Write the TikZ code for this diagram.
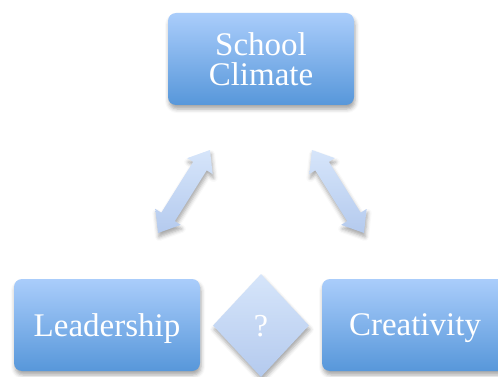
\documentclass[tikz,border=0pt]{standalone}
\usepackage{fontspec}
\setmainfont{Liberation Serif}
\usetikzlibrary{calc,shapes.geometric,shadows.blur}

\definecolor{boxtop}{HTML}{AACDFB}
\definecolor{boxbot}{HTML}{5797DA}
\definecolor{softtop}{HTML}{D6E5FA}
\definecolor{softbot}{HTML}{B4CAEE}

\tikzset{
  softshadow/.style={blur shadow={shadow xshift=1pt, shadow yshift=-4pt,
      shadow blur radius=4pt, shadow opacity=35}},
  conceptbox/.style={rectangle, rounded corners=8pt, draw=none,
      minimum width=186pt, minimum height=92pt, inner sep=0pt,
      top color=boxtop, bottom color=boxbot, text=white, align=center,
      font=\fontsize{33}{30}\selectfont, softshadow},
  oneline/.style={text depth=0pt},
  linkbox/.style={diamond, draw=none, minimum width=96pt, minimum height=103pt,
      inner sep=0pt, top color=softtop, bottom color=softbot, text=white,
      font=\fontsize{32}{30}\selectfont, text depth=0pt, softshadow},
  fatarrow/.style={top color=softtop, bottom color=softbot, draw=none, softshadow}
}

% double-headed block arrow between two named tips
\newcommand{\blockarrow}[2]{%
  \coordinate (#1h) at ($(#1)!19pt!(#2)$);
  \coordinate (#2h) at ($(#2)!19pt!(#1)$);
  \shade[fatarrow] (#1)
    -- ($(#1h)!15pt!90:(#2)$) -- ($(#1h)!8pt!90:(#2)$)
    -- ($(#2h)!8pt!-90:(#1)$) -- ($(#2h)!15pt!-90:(#1)$)
    -- (#2)
    -- ($(#2h)!15pt!90:(#1)$) -- ($(#2h)!8pt!90:(#1)$)
    -- ($(#1h)!8pt!-90:(#2)$) -- ($(#1h)!15pt!-90:(#2)$)
    -- cycle;}

\begin{document}
\begin{tikzpicture}[x=1pt,y=1pt]
  \useasboundingbox (0,0) rectangle (498,-377);
  \clip (0,0) rectangle (498,-377);

  \node[conceptbox] (climate) at (261,-59) {School\\Climate};
  \node[conceptbox, oneline] (leader) at (107,-325) {Leadership};
  \node[conceptbox, oneline] (creative) at (415,-325) {Creativity};
  \node[linkbox] (link) at (261,-325.5) {?};

  \coordinate (lbot) at (158,-233);
  \coordinate (ltop) at (210,-150);
  \coordinate (rtop) at (312,-150);
  \coordinate (rbot) at (364,-233);

  \blockarrow{lbot}{ltop}
  \blockarrow{rtop}{rbot}
\end{tikzpicture}
\end{document}
